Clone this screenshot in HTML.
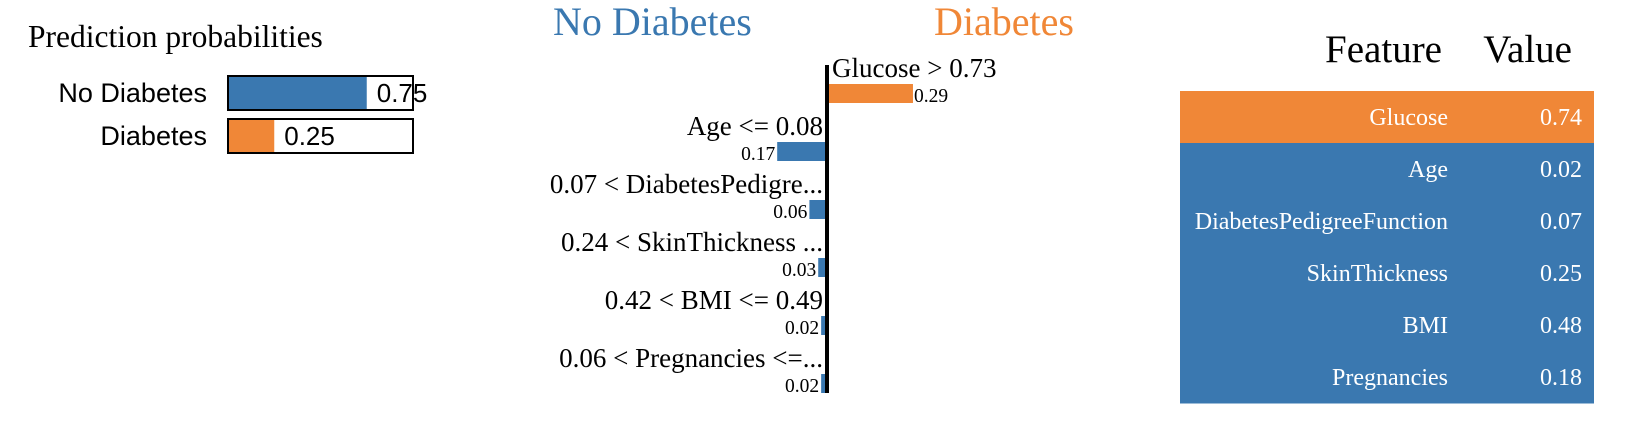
<!DOCTYPE html>
<html><head><meta charset="utf-8"><style>
html,body{margin:0;padding:0;background:#fff;}
svg{display:block;}
.serif{font-family:"Liberation Serif",serif;}
.sans{font-family:"Liberation Sans",sans-serif;}
</style></head><body>
<svg id="chart" width="1626" height="428" xmlns="http://www.w3.org/2000/svg">
<g id="probs">
<text class="serif" x="28" y="47" font-size="31.5" fill="#000">Prediction probabilities</text>
</g>
<g id="expl">
<text class="serif" x="553" y="35" font-size="40" fill="#3a78b0">No Diabetes</text>
<text class="serif" x="934" y="35" font-size="40" fill="#f08737">Diabetes</text>
</g>
<g id="tbl">
<text class="serif" x="1442" y="62" font-size="39" text-anchor="end" fill="#000">Feature</text>
<text class="serif" x="1572" y="62" font-size="39" text-anchor="end" fill="#000">Value</text>
</g>
</svg>
<script>
const probClasses = ["No Diabetes", "Diabetes"];
const probValues = [0.75, 0.25];
const probColors = ["#3a78b0", "#f08737"];

const featLabels = ["Glucose > 0.73", "Age <= 0.08", "0.07 < DiabetesPedigre...", "0.24 < SkinThickness ...", "0.42 < BMI <= 0.49", "0.06 < Pregnancies <=..."];
const featWeights = [0.29, -0.17, -0.06, -0.03, -0.02, -0.02];

const tableFeatures = ["Glucose", "Age", "DiabetesPedigreeFunction", "SkinThickness", "BMI", "Pregnancies"];
const tableValues = ["0.74", "0.02", "0.07", "0.25", "0.48", "0.18"];
const tableSigns = [1, -1, -1, -1, -1, -1];

const NS = "http://www.w3.org/2000/svg";
function mk(tag, attrs, parent, text) {
  const e = document.createElementNS(NS, tag);
  for (const k in attrs) e.setAttribute(k, attrs[k]);
  if (text !== undefined) e.textContent = text;
  parent.appendChild(e);
  return e;
}

// Prediction probabilities
const gp = document.getElementById("probs");
const boxX = 228, boxW = 185, boxH = 34, boxY0 = 76, boxStep = 43;
const px = v => boxW * v;
probClasses.forEach((c, i) => {
  const y = boxY0 + i * boxStep;
  const lab = mk("text", {x: 207, y: y + 26, "font-size": 27, "text-anchor": "end", class: "sans", fill: "#000"}, gp, c);
  
  
  const fill = mk("rect", {x: boxX, y: y, width: px(probValues[i]), height: boxH, fill: probColors[i]}, gp);
  
  
  const box = mk("rect", {x: boxX, y: y, width: boxW, height: boxH, fill: "none", stroke: "#000", "stroke-width": 2}, gp);
  
  
  const val = mk("text", {x: boxX + px(probValues[i]) + 10, y: y + 26, "font-size": 26, class: "sans", fill: "#000"}, gp, probValues[i].toFixed(2));
  
  
});

// Feature contributions
const ge = document.getElementById("expl");
const axisX = 827, unit = 293, barTop0 = 84, barStep = 58, barH = 19;
const xs = v => axisX + v * unit;
featWeights.forEach((w, i) => {
  const y = barTop0 + i * barStep;
  const pos = w >= 0;
  const bar = mk("rect", {x: pos ? axisX + 1 : xs(w), y: y, width: Math.abs(xs(w) - xs(0)), height: barH, fill: pos ? "#f08737" : "#3a78b0"}, ge);
  
  
  const lab = mk("text", {x: pos ? 832 : 823, y: y - 7, "font-size": 27, "text-anchor": pos ? "start" : "end", class: "serif", fill: "#000"}, ge, featLabels[i]);
  
  
  const val = mk("text", {x: pos ? xs(w) + 2 : xs(w) - 2, y: y + barH - 1, "font-size": 19.5, "text-anchor": pos ? "start" : "end", class: "serif", fill: "#000"}, ge, Math.abs(w).toFixed(2));
  
  
});
const axis = mk("rect", {x: axisX - 2, y: 65, width: 4, height: 328, fill: "#000"}, ge);



// Table
const gt = document.getElementById("tbl");
const tX = 1180, tW = 414, tY = 91, rowH = 52;
tableFeatures.forEach((f, i) => {
  const y = tY + i * rowH;
  const row = mk("rect", {x: tX, y: y, width: tW, height: rowH + 0.5, fill: tableSigns[i] > 0 ? "#f08737" : "#3a78b0"}, gt);
  
  
  const ft = mk("text", {x: 1448, y: y + 34, "font-size": 24, "text-anchor": "end", class: "serif", fill: "#fff"}, gt, f);
  
  
  const vt = mk("text", {x: 1582, y: y + 34, "font-size": 24, "text-anchor": "end", class: "serif", fill: "#fff"}, gt, tableValues[i]);
  
  
});
</script>
</body></html>
